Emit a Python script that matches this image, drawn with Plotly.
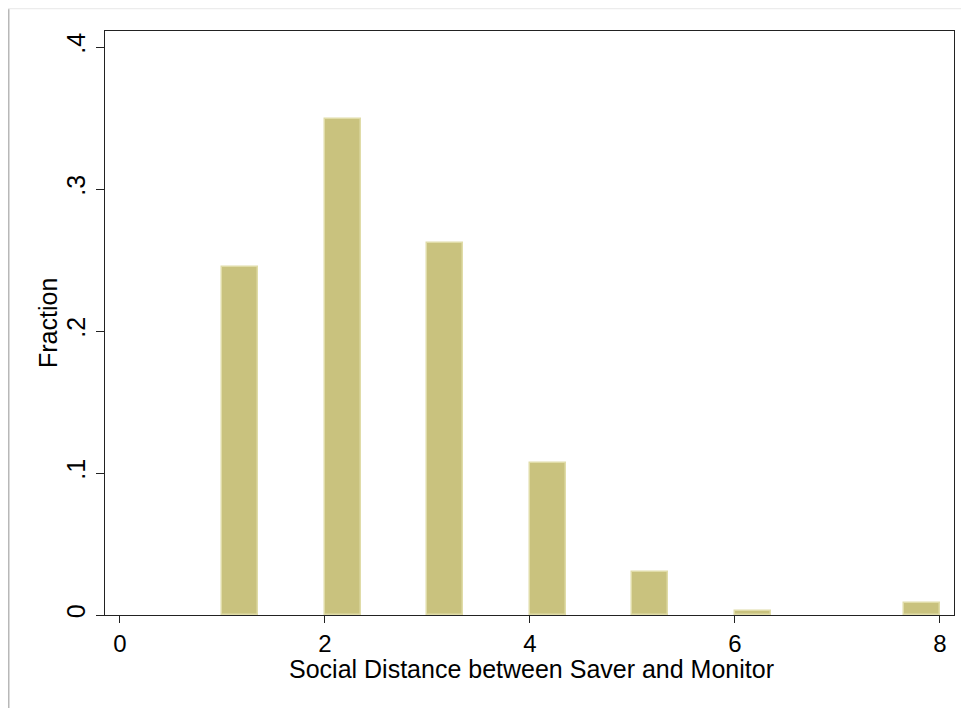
import plotly.graph_objects as go

# Data
bin_left = [1.0, 2.0, 3.0, 4.0, 5.0, 6.0, 7.65]
bin_width = 0.35
fraction = [0.245, 0.349, 0.262, 0.107, 0.0303, 0.0028, 0.0085]

x_ticks = [0, 2, 4, 6, 8]
y_ticks = [0, 0.1, 0.2, 0.3, 0.4]
y_tick_text = ["0", ".1", ".2", ".3", ".4"]

centers = [b + bin_width / 2 for b in bin_left]

font = "Liberation Sans, Arial, sans-serif"
FS = 25

fig = go.Figure()
fig.add_trace(go.Bar(
    x=centers, y=fraction, width=[bin_width] * len(centers),
    marker=dict(color="#c9c27e", line=dict(color="#e0dca8", width=1.5)),
    hoverinfo="skip",
))

# page has an 8px body margin; figure sized to fit the window
W, H = 961, 700
L, R, T, B = 97, 15, 23, 93
pw, ph = W - L - R, H - T - B

def px_x(p):
    return (p - L) / pw

def px_y(p):
    return (H - B - p) / ph

fig.update_layout(
    width=W, height=H,
    margin=dict(l=L, r=R, t=T, b=B, pad=0),
    paper_bgcolor="white", plot_bgcolor="white",
    showlegend=False,
    font=dict(family=font, size=FS, color="black"),
    bargap=0,
    xaxis=dict(
        range=[-0.146, 8.137], tickvals=x_ticks, ticks="outside", ticklen=7,
        tickwidth=1, tickcolor="#222", showgrid=False, zeroline=False,
        showline=True, linecolor="#222", linewidth=1.2, mirror=True,
        tickfont=dict(size=24, family=font),
    ),
    yaxis=dict(
        range=[0, 0.4113], tickvals=y_ticks, ticktext=y_tick_text,
        ticks="outside", ticklen=8, tickwidth=1, tickcolor="#222",
        tickangle=-90, ticklabelstandoff=1, showgrid=False, zeroline=False,
        showline=True, linecolor="#222", linewidth=1.2, mirror=True,
        tickfont=dict(size=FS, family=font),
    ),
    annotations=[
        dict(text="Social Distance between Saver and Monitor",
             xref="paper", yref="paper", x=px_x(523), y=px_y(661),
             xanchor="center", yanchor="middle", showarrow=False,
             font=dict(size=FS, family=font)),
        dict(text="Fraction", textangle=-90,
             xref="paper", yref="paper", x=px_x(40), y=px_y(315),
             xanchor="center", yanchor="middle", showarrow=False,
             font=dict(size=FS, family=font)),
    ],
    shapes=[
        dict(type="line", xref="paper", yref="paper",
             x0=px_x(0.75), x1=px_x(0.75), y0=px_y(0), y1=px_y(700),
             line=dict(color="#b8b8b8", width=1.5)),
        dict(type="line", xref="paper", yref="paper",
             x0=px_x(0), x1=px_x(961), y0=px_y(0.5), y1=px_y(0.5),
             line=dict(color="#ececec", width=1.5)),
    ],
)

fig.write_html("out.html")
